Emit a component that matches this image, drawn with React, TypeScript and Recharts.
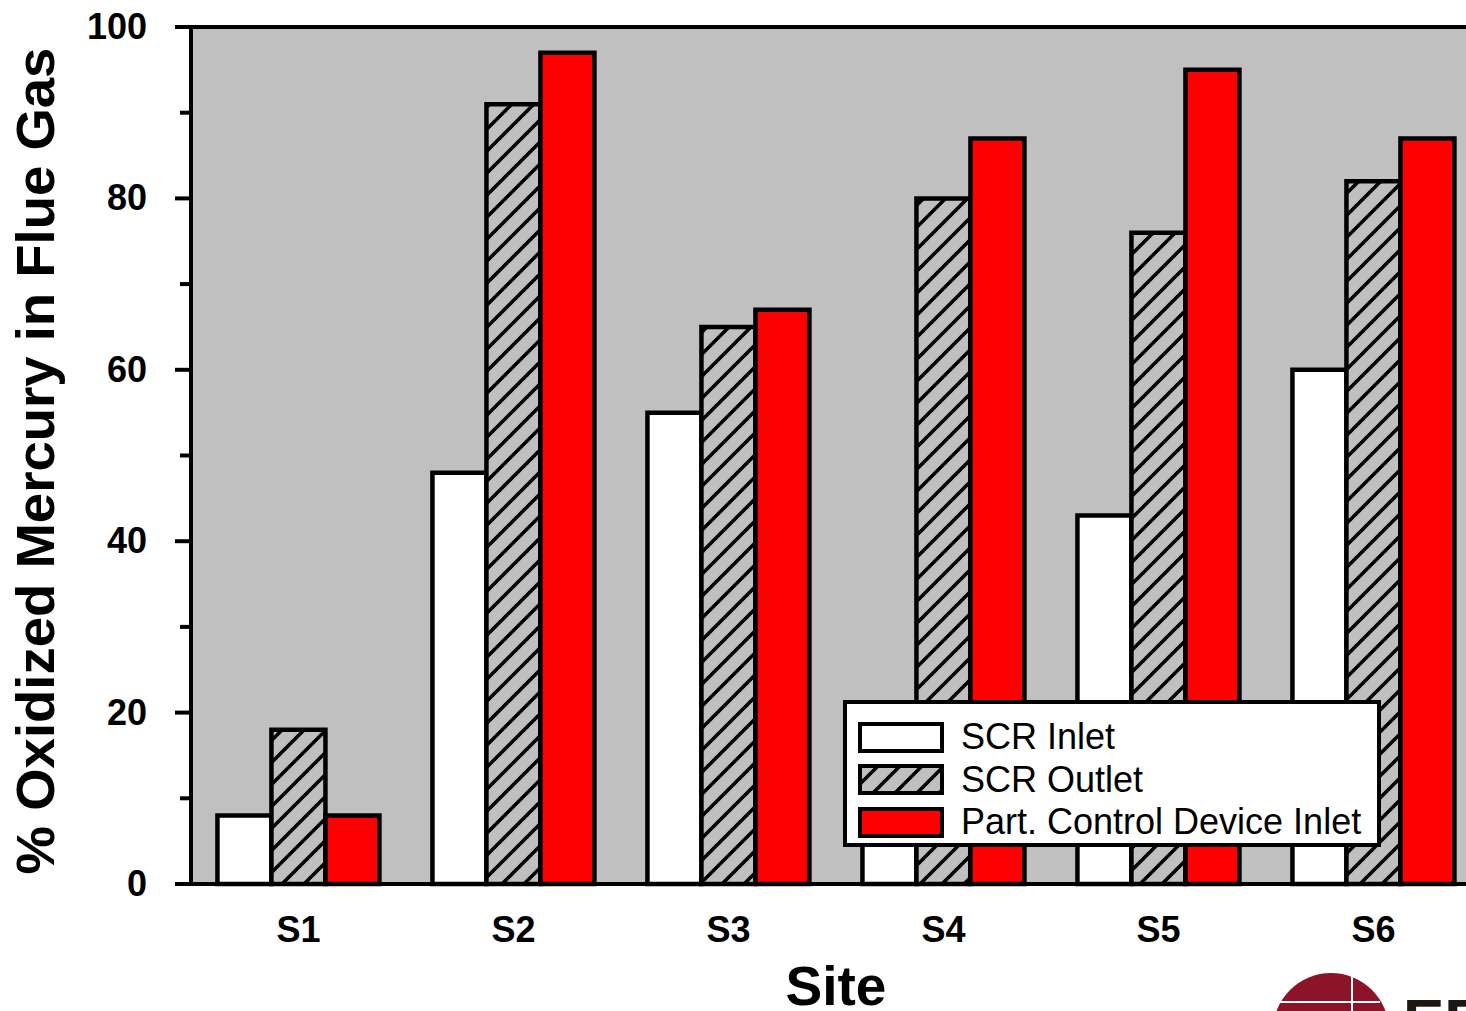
import React from 'react';
import {
  BarChart,
  Bar,
  XAxis,
  YAxis,
  CartesianGrid,
  ReferenceLine,
} from 'recharts';

const sites = ['S1', 'S2', 'S3', 'S4', 'S5', 'S6'];
const scrInlet = [8, 48, 55, 10, 43, 60];
const scrOutlet = [18, 91, 65, 80, 76, 82];
const pcdInlet = [8, 97, 67, 87, 95, 87];
const yTicks = [0, 10, 20, 30, 40, 50, 60, 70, 80, 90, 100];

const seriesNames = ['SCR Inlet', 'SCR Outlet', 'Part. Control Device Inlet'];

const FONT = '"Liberation Sans", Arial, Helvetica, sans-serif';
const PLOT_BG = '#c0c0c0';

const rows = sites.map((site, i) => ({
  site,
  inlet: scrInlet[i],
  outlet: scrOutlet[i],
  pcd: pcdInlet[i],
}));

function HatchPattern({ id }: { id: string }) {
  return (
    <pattern id={id} patternUnits="userSpaceOnUse" width={22} height={22}>
      <rect width={22} height={22} fill={PLOT_BG} />
      <line x1={-4} y1={26} x2={26} y2={-4} stroke="#000" strokeWidth={3.5} />
      <line x1={-26} y1={26} x2={4} y2={-4} stroke="#000" strokeWidth={3.5} />
      <line x1={18} y1={26} x2={48} y2={-4} stroke="#000" strokeWidth={3.5} />
    </pattern>
  );
}

function YTick({ x, y, payload }: any) {
  const major = payload.value % 20 === 0;
  return (
    <g>
      <line x1={x - (major ? 16 : 11)} x2={x} y1={y} y2={y} stroke="#000" strokeWidth={4} />
      {major && (
        <text
          x={x - 44}
          y={y + 12}
          textAnchor="end"
          fontFamily={FONT}
          fontWeight={700}
          fontSize={36}
          fill="#000"
        >
          {payload.value}
        </text>
      )}
    </g>
  );
}

function XTick({ x, y, payload }: any) {
  return (
    <text x={x} y={y + 58} textAnchor="middle" fontFamily={FONT} fontWeight={700} fontSize={36} fill="#000">
      {payload.value}
    </text>
  );
}

function YTitle() {
  return (
    <text
      x={54}
      y={461}
      transform="rotate(-90 54 461)"
      textAnchor="middle"
      fontFamily={FONT}
      fontWeight={700}
      fontSize={54.5}
      fill="#000"
    >
      % Oxidized Mercury in Flue Gas
    </text>
  );
}

// legend drawn as an overlay so it does not shrink the plot area
function LegendBox() {
  const fills = ['#ffffff', 'url(#hatchLegend)', '#ff0000'];
  return (
    <div
      style={{
        position: 'absolute',
        left: 843,
        top: 700,
        boxSizing: 'border-box',
        width: 538,
        height: 147,
        border: '4px solid #000',
        background: '#fff',
        paddingTop: 12,
        paddingLeft: 11,
        fontFamily: FONT,
      }}
    >
      <svg width={0} height={0} style={{ position: 'absolute' }}>
        <defs>
          <HatchPattern id="hatchLegend" />
        </defs>
      </svg>
      {seriesNames.map((name, i) => (
        <div key={name} style={{ display: 'flex', alignItems: 'center', height: 42.5 }}>
          <svg width={86} height={31} style={{ flex: 'none' }}>
            <rect x={2} y={2} width={82} height={27} fill={fills[i]} stroke="#000" strokeWidth={4} />
          </svg>
          <span style={{ marginLeft: 17, fontSize: 36, color: '#000', lineHeight: 1 }}>{name}</span>
        </div>
      ))}
    </div>
  );
}

function Logo() {
  return (
    <svg width={206} height={51} style={{ position: 'absolute', left: 1260, top: 960 }}>
      <circle cx={71} cy={71} r={58} fill="#8b1428" />
      <line x1={20} y1={42} x2={120} y2={42} stroke="#fff" strokeWidth={2} />
      <line x1={92} y1={13} x2={92} y2={51} stroke="#fff" strokeWidth={2} />
      <path d="M92 52 A 14 14 0 0 1 106 66" fill="none" stroke="#fff" strokeWidth={2} />
      <text x={143} y={82} fontFamily={FONT} fontWeight={700} fontSize={62} fill="#1a1714">
        EERC
      </text>
    </svg>
  );
}

export default function App() {
  return (
    <div
      style={{
        position: 'absolute',
        left: 0,
        top: 0,
        width: 1466,
        height: 1011,
        overflow: 'hidden',
        background: '#fff',
      }}
    >
      <BarChart
        width={1500}
        height={1011}
        data={rows}
        margin={{ top: 27, right: 19, left: 0, bottom: 0 }}
        barCategoryGap="12.3%"
        barGap={0}
      >
        <defs>
          <HatchPattern id="hatchBar" />
        </defs>
        <CartesianGrid fill={PLOT_BG} horizontal={false} vertical={false} />
        <XAxis
          dataKey="site"
          height={127}
          axisLine={{ stroke: '#000', strokeWidth: 4, strokeLinecap: 'square' }}
          tickLine={false}
          tickSize={0}
          tickMargin={0}
          tick={<XTick />}
          label={{
            value: 'Site',
            position: 'insideBottom',
            offset: 6,
            style: { fontFamily: FONT, fontWeight: 700, fontSize: 55, fill: '#000' },
          }}
        />
        <YAxis
          width={191}
          domain={[0, 100]}
          ticks={yTicks}
          interval={0}
          axisLine={{ stroke: '#000', strokeWidth: 4, strokeLinecap: 'square' }}
          tickLine={false}
          tickSize={0}
          tickMargin={0}
          tick={<YTick />}
          label={{ content: () => <YTitle /> }}
        />
        <ReferenceLine y={100} stroke="#000" strokeWidth={4} />
        <Bar dataKey="inlet" name={seriesNames[0]} fill="#ffffff" stroke="#000" strokeWidth={4.5} isAnimationActive={false} />
        <Bar dataKey="outlet" name={seriesNames[1]} fill="url(#hatchBar)" stroke="#000" strokeWidth={4.5} isAnimationActive={false} />
        <Bar dataKey="pcd" name={seriesNames[2]} fill="#ff0000" stroke="#000" strokeWidth={4.5} isAnimationActive={false} />
      </BarChart>
      <LegendBox />
      <Logo />
    </div>
  );
}
